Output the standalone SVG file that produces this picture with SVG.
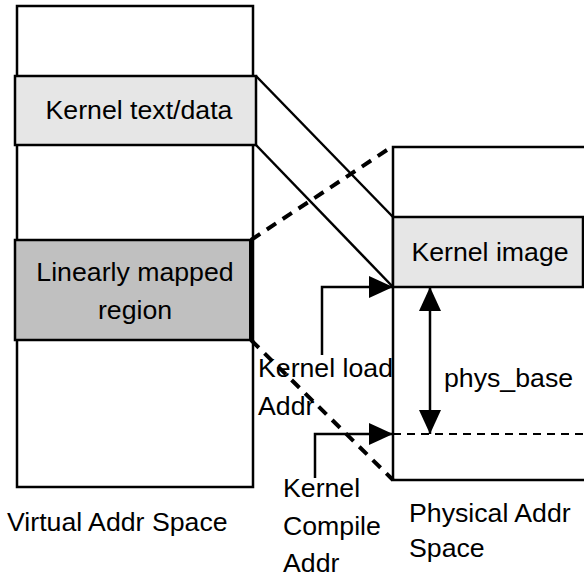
<svg xmlns="http://www.w3.org/2000/svg" width="584" height="577" viewBox="0 0 584 577">
<style>
text{font-family:"Liberation Sans",Arial,sans-serif;font-size:26.7px;fill:#000}
.box{fill:#fff;stroke:#000;stroke-width:2.5}
.ln{stroke:#000;stroke-width:2.5;fill:none}
.thickdash{stroke:#000;stroke-width:4;stroke-dasharray:11 8;fill:none}
.thindash{stroke:#000;stroke-width:2;stroke-dasharray:8 6;fill:none}
</style>
<defs>
<marker id="ah" viewBox="0 0 24 22" refX="24" refY="11" markerWidth="24" markerHeight="22" markerUnits="userSpaceOnUse" orient="auto-start-reverse">
<path d="M0,0 L24,11 L0,22 Z" fill="#000"/>
</marker>
</defs>
<g id="virtual-space">
<rect class="box" x="17" y="6" width="236" height="481"/>
<text x="7" y="531">Virtual Addr Space</text>
</g>
<g id="kernel-text-data">
<rect x="15" y="76" width="241" height="69" fill="#e6e6e6" stroke="#000" stroke-width="2.5"/>
<text x="139" y="119" text-anchor="middle">Kernel text/data</text>
</g>
<g id="linear-region">
<rect x="15" y="240" width="236" height="100" fill="#c0c0c0" stroke="#000" stroke-width="2.5"/>
<line x1="251" y1="240" x2="251" y2="340" stroke="#000" stroke-width="4"/>
<text x="135" y="281" text-anchor="middle">Linearly mapped</text>
<text x="135" y="319" text-anchor="middle">region</text>
</g>
<g id="physical-space">
<rect class="box" x="393" y="147" width="200" height="333"/>
<text x="409" y="522">Physical Addr</text>
<text x="409" y="557">Space</text>
</g>
<g id="kernel-image">
<rect x="393" y="217" width="190" height="70" fill="#e6e6e6" stroke="#000" stroke-width="2.5"/>
<text x="490" y="261" text-anchor="middle">Kernel image</text>
</g>
<g id="connectors">
<line class="ln" x1="256" y1="76" x2="393" y2="217"/>
<line class="ln" x1="256" y1="145" x2="393" y2="287"/>
<line class="thickdash" x1="251" y1="240" x2="390" y2="148"/>
<line class="thickdash" x1="251" y1="340" x2="393" y2="480"/>
<polyline class="ln" points="322,355 322,287 393,287" marker-end="url(#ah)"/>
<polyline class="ln" points="315,478 315,434 393,434" marker-end="url(#ah)"/>
<line class="thindash" x1="393" y1="434" x2="584" y2="434"/>
<line class="ln" x1="430" y1="287" x2="430" y2="434" marker-start="url(#ah)" marker-end="url(#ah)"/>
</g>
<g id="labels">
<text x="258" y="377">Kernel load</text>
<text x="258" y="415">Addr</text>
<text x="444" y="387">phys_base</text>
<text x="283" y="497">Kernel</text>
<text x="283" y="535">Compile</text>
<text x="283" y="572">Addr</text>
</g>
</svg>
